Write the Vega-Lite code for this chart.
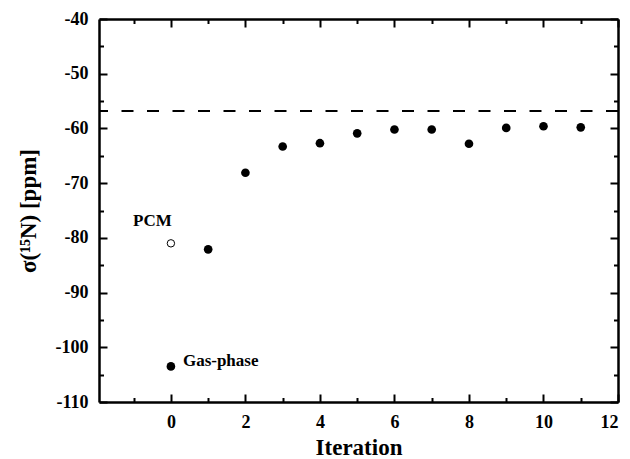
{
  "$schema": "https://vega.github.io/schema/vega-lite/v6.json",
  "width": 519,
  "height": 383,
  "autosize": "none",
  "padding": {"left": 99, "top": 19, "right": 12, "bottom": 57},
  "background": "white",
  "config": {
    "view": {"stroke": null},
    "font": "Liberation Serif",
    "axis": {
      "grid": false,
      "domainColor": "black",
      "domainWidth": 2.5,
      "tickColor": "black",
      "tickWidth": 2,
      "labelFont": "Liberation Serif",
      "labelFontSize": 18,
      "labelFontWeight": "bold",
      "labelColor": "black",
      "titleFont": "Liberation Serif",
      "titleFontWeight": "bold",
      "titleColor": "black",
      "titleFontSize": 23
    }
  },
  "datasets": {
    "points": [
      {"iteration": 0, "sigma": -103.5, "series": "Gas-phase"},
      {"iteration": 1, "sigma": -82.1, "series": "Iterative"},
      {"iteration": 2, "sigma": -68.1, "series": "Iterative"},
      {"iteration": 3, "sigma": -63.3, "series": "Iterative"},
      {"iteration": 4, "sigma": -62.7, "series": "Iterative"},
      {"iteration": 5, "sigma": -60.9, "series": "Iterative"},
      {"iteration": 6, "sigma": -60.2, "series": "Iterative"},
      {"iteration": 7, "sigma": -60.2, "series": "Iterative"},
      {"iteration": 8, "sigma": -62.8, "series": "Iterative"},
      {"iteration": 9, "sigma": -59.9, "series": "Iterative"},
      {"iteration": 10, "sigma": -59.6, "series": "Iterative"},
      {"iteration": 11, "sigma": -59.8, "series": "Iterative"}
    ],
    "pcm": [
      {"iteration": 0, "sigma": -81.0, "series": "PCM"}
    ],
    "reference": [
      {"sigma": -56.8}
    ]
  },
  "layer": [
    {
      "data": {"name": "reference"},
      "mark": {"type": "rule", "color": "black", "strokeWidth": 2, "strokeDash": [12, 13.5]},
      "encoding": {
        "y": {"field": "sigma", "type": "quantitative", "scale": {"domain": [-110, -40], "nice": false, "zero": false}, "axis": null}
      }
    },
    {
      "data": {"name": "points"},
      "mark": {"type": "point", "shape": "circle", "filled": true, "color": "black", "size": 75, "opacity": 1},
      "encoding": {
        "x": {
          "field": "iteration", "type": "quantitative",
          "scale": {"domain": [-1.93, 12], "nice": false, "zero": false},
          "axis": {
            "orient": "bottom",
            "title": "Iteration",
            "values": [-1, 0, 1, 2, 3, 4, 5, 6, 7, 8, 9, 10, 11, 12],
            "labelExpr": "datum.value % 2 === 0 ? '' + datum.value : ''",
            "tickSize": {"expr": "datum.value % 2 === 0 ? -8 : -4.5"},
            "labelPadding": 19,
            "titlePadding": 5
          }
        },
        "y": {
          "field": "sigma", "type": "quantitative",
          "scale": {"domain": [-110, -40], "nice": false, "zero": false},
          "axis": {
            "orient": "left",
            "title": "σ(¹⁵N) [ppm]",
            "values": [-110, -105, -100, -95, -90, -85, -80, -75, -70, -65, -60, -55, -50, -45, -40],
            "labelExpr": "datum.value % 10 === 0 ? '' + datum.value : ''",
            "tickSize": {"expr": "datum.value % 10 === 0 ? -8 : -4.5"},
            "labelPadding": 19,
            "titlePadding": 15
          }
        }
      }
    },
    {
      "data": {"name": "pcm"},
      "mark": {"type": "point", "shape": "circle", "filled": false, "color": "black", "strokeWidth": 1, "size": 55, "opacity": 1},
      "encoding": {
        "x": {
          "field": "iteration", "type": "quantitative",
          "axis": {
            "orient": "top",
            "title": null,
            "labels": false,
            "values": [-1, 0, 1, 2, 3, 4, 5, 6, 7, 8, 9, 10, 11, 12],
            "tickSize": {"expr": "datum.value % 2 === 0 ? -8 : -4.5"}
          }
        },
        "y": {
          "field": "sigma", "type": "quantitative",
          "axis": {
            "orient": "right",
            "title": null,
            "labels": false,
            "values": [-110, -105, -100, -95, -90, -85, -80, -75, -70, -65, -60, -55, -50, -45, -40],
            "tickSize": {"expr": "datum.value % 10 === 0 ? -8 : -4.5"}
          }
        }
      }
    },
    {
      "data": {"name": "pcm"},
      "mark": {"type": "text", "text": "PCM", "font": "Liberation Serif", "fontWeight": "bold", "fontSize": 17, "color": "black", "align": "center", "baseline": "middle", "dx": -18.5, "dy": -22.6},
      "encoding": {
        "x": {"field": "iteration", "type": "quantitative", "axis": null},
        "y": {"field": "sigma", "type": "quantitative", "axis": null}
      }
    },
    {
      "data": {"name": "points"},
      "transform": [{"filter": "datum.series === 'Gas-phase'"}],
      "mark": {"type": "text", "font": "Liberation Serif", "fontWeight": "bold", "fontSize": 17, "color": "black", "align": "left", "baseline": "middle", "dx": 12, "dy": -5},
      "encoding": {
        "text": {"field": "series"},
        "x": {"field": "iteration", "type": "quantitative", "axis": null},
        "y": {"field": "sigma", "type": "quantitative", "axis": null}
      }
    }
  ],
  "resolve": {"axis": {"x": "independent", "y": "independent"}}
}
